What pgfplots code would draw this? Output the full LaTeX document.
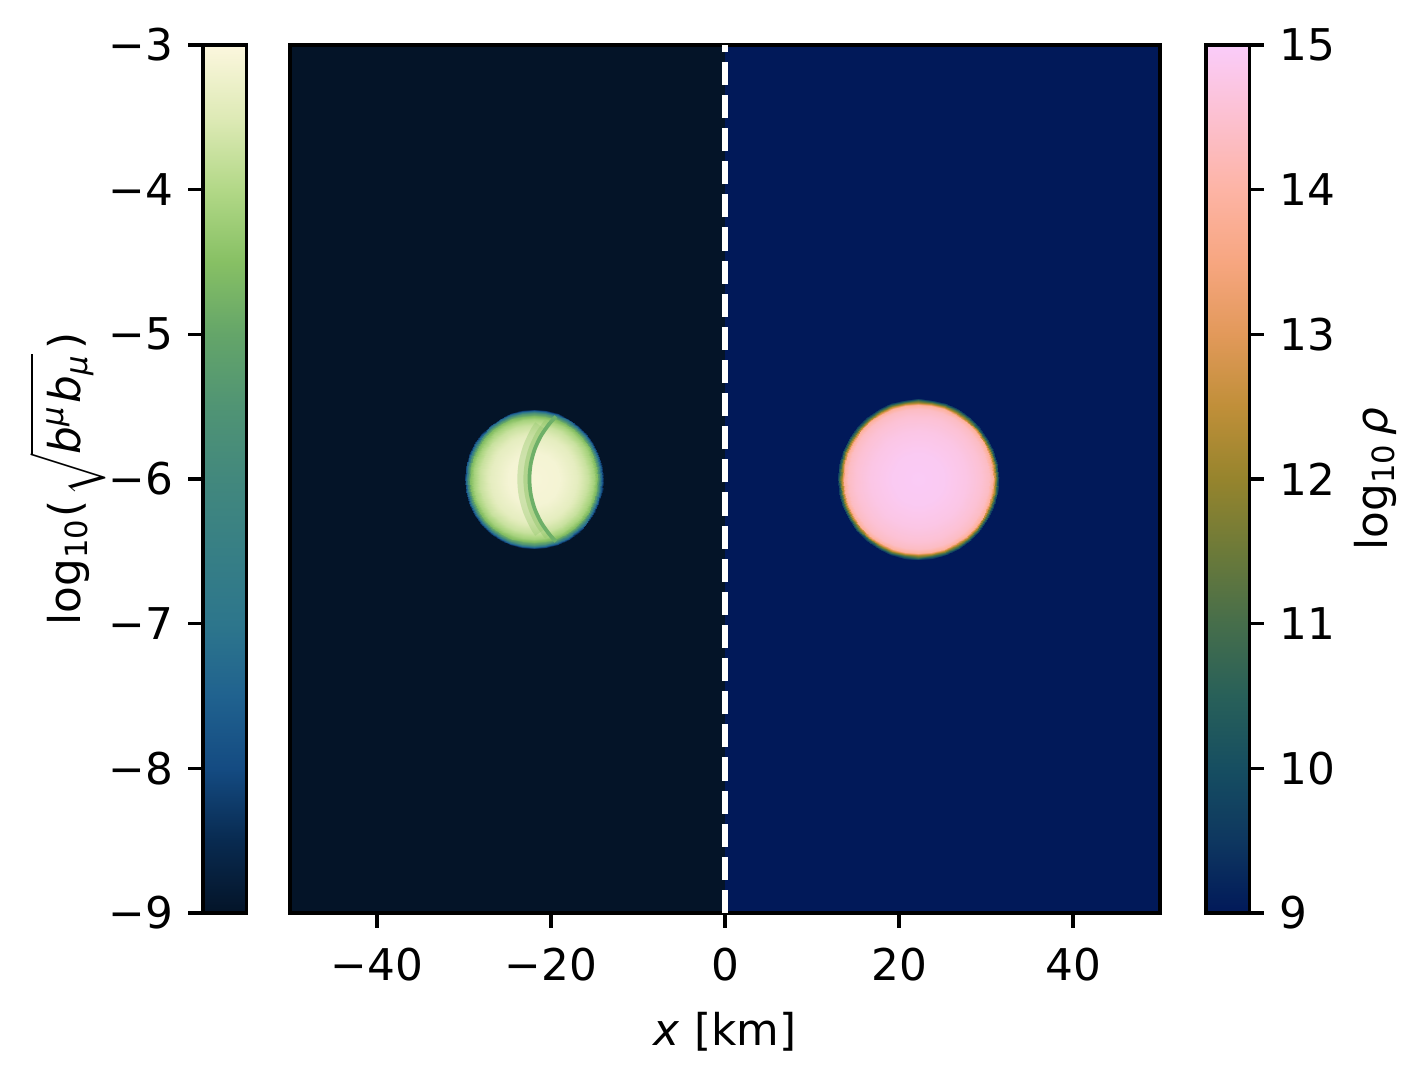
\documentclass[border=0pt]{standalone}
\usepackage{fontspec}
\setmainfont{DejaVu Sans}
\usepackage{pgfplots}
\pgfplotsset{compat=1.18}

\definecolor{bgleft}{RGB}{4,20,40}
\definecolor{bgright}{RGB}{1,25,89}
\definecolor{arcgreen}{RGB}{110,176,104}
\definecolor{bandgreen}{RGB}{150,200,112}

\pgfplotsset{
  colormap={navia}{rgb255=(4,20,40) rgb255=(8,42,80) rgb255=(20,75,130) rgb255=(32,98,143)
    rgb255=(45,118,140) rgb255=(55,127,133) rgb255=(66,136,125) rgb255=(80,148,116)
    rgb255=(100,165,105) rgb255=(135,192,100) rgb255=(178,216,135) rgb255=(222,234,182)
    rgb255=(252,247,222)},
  colormap={batlow}{rgb255=(1,25,89) rgb255=(14,55,96) rgb255=(22,78,97) rgb255=(40,96,89)
    rgb255=(70,110,75) rgb255=(108,122,57) rgb255=(150,132,45) rgb255=(192,143,57)
    rgb255=(226,153,90) rgb255=(247,166,128) rgb255=(253,180,165) rgb255=(252,192,208)
    rgb255=(250,204,250)},
  geom/.style={scale only axis, anchor=south west, at={(69.6pt,38.88pt)},
    width=208.8pt, height=208.32pt, ymin=-50, ymax=50},
  cbar/.style={scale only axis, anchor=south west, width=10.4pt, height=208.32pt,
    xmin=0, xmax=1, xtick=\empty, tick align=outside, major tick length=3.5pt,
    tick style={line width=0.8pt, black}, axis line style={line width=0.8pt}, axis on top},
}

\begin{document}
\fontsize{10.5}{12.6}\selectfont
\begin{tikzpicture}
\useasboundingbox (0,0) rectangle (341.76pt,258pt);

% background halves
\begin{axis}[geom, xmin=-50, xmax=50, hide axis]
\addplot[fill=bgleft, draw=none] coordinates {(-50,-50) (0,-50) (0,50) (-50,50)};
\addplot[fill=bgright, draw=none] coordinates {(0,-50) (50,-50) (50,50) (0,50)};
\end{axis}

% left star, magnetic field; rings given as (angle, radius)[value] around the star centre
\begin{axis}[geom, xmin=-28, xmax=72, hide axis, colormap name=navia,
  point meta min=-9, point meta max=-3]
\addplot[surf, shader=interp, data cs=polar, point meta=explicit, mesh/rows=9, mesh/cols=37] coordinates {
(0,0)[-3.08] (10,0)[-3.08] (20,0)[-3.08] (30,0)[-3.08] (40,0)[-3.08] (50,0)[-3.08] (60,0)[-3.08] (70,0)[-3.08] (80,0)[-3.08] (90,0)[-3.08] (100,0)[-3.08] (110,0)[-3.08] (120,0)[-3.08] (130,0)[-3.08] (140,0)[-3.08] (150,0)[-3.08] (160,0)[-3.08] (170,0)[-3.08] (180,0)[-3.08] (190,0)[-3.08] (200,0)[-3.08] (210,0)[-3.08] (220,0)[-3.08] (230,0)[-3.08] (240,0)[-3.08] (250,0)[-3.08] (260,0)[-3.08] (270,0)[-3.08] (280,0)[-3.08] (290,0)[-3.08] (300,0)[-3.08] (310,0)[-3.08] (320,0)[-3.08] (330,0)[-3.08] (340,0)[-3.08] (350,0)[-3.08] (360,0)[-3.08]
(0,3)[-3.13] (10,3)[-3.13] (20,3)[-3.13] (30,3)[-3.13] (40,3)[-3.13] (50,3)[-3.13] (60,3)[-3.13] (70,3)[-3.13] (80,3)[-3.13] (90,3)[-3.13] (100,3)[-3.13] (110,3)[-3.13] (120,3)[-3.13] (130,3)[-3.13] (140,3)[-3.13] (150,3)[-3.13] (160,3)[-3.13] (170,3)[-3.13] (180,3)[-3.13] (190,3)[-3.13] (200,3)[-3.13] (210,3)[-3.13] (220,3)[-3.13] (230,3)[-3.13] (240,3)[-3.13] (250,3)[-3.13] (260,3)[-3.13] (270,3)[-3.13] (280,3)[-3.13] (290,3)[-3.13] (300,3)[-3.13] (310,3)[-3.13] (320,3)[-3.13] (330,3)[-3.13] (340,3)[-3.13] (350,3)[-3.13] (360,3)[-3.13]
(0,5)[-3.38] (10,5)[-3.38] (20,5)[-3.38] (30,5)[-3.38] (40,5)[-3.38] (50,5)[-3.38] (60,5)[-3.38] (70,5)[-3.38] (80,5)[-3.38] (90,5)[-3.38] (100,5)[-3.38] (110,5)[-3.38] (120,5)[-3.38] (130,5)[-3.38] (140,5)[-3.38] (150,5)[-3.38] (160,5)[-3.38] (170,5)[-3.38] (180,5)[-3.38] (190,5)[-3.38] (200,5)[-3.38] (210,5)[-3.38] (220,5)[-3.38] (230,5)[-3.38] (240,5)[-3.38] (250,5)[-3.38] (260,5)[-3.38] (270,5)[-3.38] (280,5)[-3.38] (290,5)[-3.38] (300,5)[-3.38] (310,5)[-3.38] (320,5)[-3.38] (330,5)[-3.38] (340,5)[-3.38] (350,5)[-3.38] (360,5)[-3.38]
(0,6.2)[-3.75] (10,6.2)[-3.75] (20,6.2)[-3.75] (30,6.2)[-3.75] (40,6.2)[-3.75] (50,6.2)[-3.75] (60,6.2)[-3.75] (70,6.2)[-3.75] (80,6.2)[-3.75] (90,6.2)[-3.75] (100,6.2)[-3.75] (110,6.2)[-3.75] (120,6.2)[-3.75] (130,6.2)[-3.75] (140,6.2)[-3.75] (150,6.2)[-3.75] (160,6.2)[-3.75] (170,6.2)[-3.75] (180,6.2)[-3.75] (190,6.2)[-3.75] (200,6.2)[-3.75] (210,6.2)[-3.75] (220,6.2)[-3.75] (230,6.2)[-3.75] (240,6.2)[-3.75] (250,6.2)[-3.75] (260,6.2)[-3.75] (270,6.2)[-3.75] (280,6.2)[-3.75] (290,6.2)[-3.75] (300,6.2)[-3.75] (310,6.2)[-3.75] (320,6.2)[-3.75] (330,6.2)[-3.75] (340,6.2)[-3.75] (350,6.2)[-3.75] (360,6.2)[-3.75]
(0,6.9)[-4.15] (10,6.9)[-4.15] (20,6.9)[-4.15] (30,6.9)[-4.15] (40,6.9)[-4.15] (50,6.9)[-4.15] (60,6.9)[-4.15] (70,6.9)[-4.15] (80,6.9)[-4.15] (90,6.9)[-4.15] (100,6.9)[-4.15] (110,6.9)[-4.15] (120,6.9)[-4.15] (130,6.9)[-4.15] (140,6.9)[-4.15] (150,6.9)[-4.15] (160,6.9)[-4.15] (170,6.9)[-4.15] (180,6.9)[-4.15] (190,6.9)[-4.15] (200,6.9)[-4.15] (210,6.9)[-4.15] (220,6.9)[-4.15] (230,6.9)[-4.15] (240,6.9)[-4.15] (250,6.9)[-4.15] (260,6.9)[-4.15] (270,6.9)[-4.15] (280,6.9)[-4.15] (290,6.9)[-4.15] (300,6.9)[-4.15] (310,6.9)[-4.15] (320,6.9)[-4.15] (330,6.9)[-4.15] (340,6.9)[-4.15] (350,6.9)[-4.15] (360,6.9)[-4.15]
(0,7.3)[-4.6] (10,7.3)[-4.6] (20,7.3)[-4.6] (30,7.3)[-4.6] (40,7.3)[-4.6] (50,7.3)[-4.6] (60,7.3)[-4.6] (70,7.3)[-4.6] (80,7.3)[-4.6] (90,7.3)[-4.6] (100,7.3)[-4.6] (110,7.3)[-4.6] (120,7.3)[-4.6] (130,7.3)[-4.6] (140,7.3)[-4.6] (150,7.3)[-4.6] (160,7.3)[-4.6] (170,7.3)[-4.6] (180,7.3)[-4.6] (190,7.3)[-4.6] (200,7.3)[-4.6] (210,7.3)[-4.6] (220,7.3)[-4.6] (230,7.3)[-4.6] (240,7.3)[-4.6] (250,7.3)[-4.6] (260,7.3)[-4.6] (270,7.3)[-4.6] (280,7.3)[-4.6] (290,7.3)[-4.6] (300,7.3)[-4.6] (310,7.3)[-4.6] (320,7.3)[-4.6] (330,7.3)[-4.6] (340,7.3)[-4.6] (350,7.3)[-4.6] (360,7.3)[-4.6]
(0,7.55)[-5.5] (10,7.55)[-5.5] (20,7.55)[-5.5] (30,7.55)[-5.5] (40,7.55)[-5.5] (50,7.55)[-5.5] (60,7.55)[-5.5] (70,7.55)[-5.5] (80,7.55)[-5.5] (90,7.55)[-5.5] (100,7.55)[-5.5] (110,7.55)[-5.5] (120,7.55)[-5.5] (130,7.55)[-5.5] (140,7.55)[-5.5] (150,7.55)[-5.5] (160,7.55)[-5.5] (170,7.55)[-5.5] (180,7.55)[-5.5] (190,7.55)[-5.5] (200,7.55)[-5.5] (210,7.55)[-5.5] (220,7.55)[-5.5] (230,7.55)[-5.5] (240,7.55)[-5.5] (250,7.55)[-5.5] (260,7.55)[-5.5] (270,7.55)[-5.5] (280,7.55)[-5.5] (290,7.55)[-5.5] (300,7.55)[-5.5] (310,7.55)[-5.5] (320,7.55)[-5.5] (330,7.55)[-5.5] (340,7.55)[-5.5] (350,7.55)[-5.5] (360,7.55)[-5.5]
(0,7.8)[-7.2] (10,7.8)[-7.2] (20,7.8)[-7.2] (30,7.8)[-7.2] (40,7.8)[-7.2] (50,7.8)[-7.2] (60,7.8)[-7.2] (70,7.8)[-7.2] (80,7.8)[-7.2] (90,7.8)[-7.2] (100,7.8)[-7.2] (110,7.8)[-7.2] (120,7.8)[-7.2] (130,7.8)[-7.2] (140,7.8)[-7.2] (150,7.8)[-7.2] (160,7.8)[-7.2] (170,7.8)[-7.2] (180,7.8)[-7.2] (190,7.8)[-7.2] (200,7.8)[-7.2] (210,7.8)[-7.2] (220,7.8)[-7.2] (230,7.8)[-7.2] (240,7.8)[-7.2] (250,7.8)[-7.2] (260,7.8)[-7.2] (270,7.8)[-7.2] (280,7.8)[-7.2] (290,7.8)[-7.2] (300,7.8)[-7.2] (310,7.8)[-7.2] (320,7.8)[-7.2] (330,7.8)[-7.2] (340,7.8)[-7.2] (350,7.8)[-7.2] (360,7.8)[-7.2]
(0,8.05)[-9] (10,8.05)[-9] (20,8.05)[-9] (30,8.05)[-9] (40,8.05)[-9] (50,8.05)[-9] (60,8.05)[-9] (70,8.05)[-9] (80,8.05)[-9] (90,8.05)[-9] (100,8.05)[-9] (110,8.05)[-9] (120,8.05)[-9] (130,8.05)[-9] (140,8.05)[-9] (150,8.05)[-9] (160,8.05)[-9] (170,8.05)[-9] (180,8.05)[-9] (190,8.05)[-9] (200,8.05)[-9] (210,8.05)[-9] (220,8.05)[-9] (230,8.05)[-9] (240,8.05)[-9] (250,8.05)[-9] (260,8.05)[-9] (270,8.05)[-9] (280,8.05)[-9] (290,8.05)[-9] (300,8.05)[-9] (310,8.05)[-9] (320,8.05)[-9] (330,8.05)[-9] (340,8.05)[-9] (350,8.05)[-9] (360,8.05)[-9]
};
% inner boundary between the two lobes
\addplot[bandgreen, opacity=0.4, line width=2.9pt, smooth] coordinates {(0.75,6.14) (0.25,5.35) (-0.53,3.66) (-1.02,1.86) (-1.18,0) (-1.02,-1.86) (-0.53,-3.66) (0.25,-5.35) (0.75,-6.14)};
\addplot[bandgreen, opacity=0.5, line width=1.46pt, smooth] coordinates {(1.59,6.65) (0.56,5.18) (-0.21,3.54) (-0.67,1.80) (-0.83,0) (-0.67,-1.80) (-0.21,-3.54) (0.56,-5.18) (1.59,-6.65)};
\addplot[arcgreen, line width=0.9pt, smooth] coordinates {(2.57,7.19) (1.86,6.43) (0.86,5.00) (0.12,3.42) (-0.33,1.74) (-0.48,0) (-0.33,-1.74) (0.12,-3.42) (0.86,-5.00) (1.86,-6.43) (2.57,-7.19)};
\end{axis}

% right star, density
\begin{axis}[geom, xmin=-72.2, xmax=27.8, hide axis, colormap name=batlow,
  point meta min=9, point meta max=15]
\addplot[surf, shader=interp, data cs=polar, point meta=explicit, mesh/rows=9, mesh/cols=37] coordinates {
(0,0)[14.95] (10,0)[14.95] (20,0)[14.95] (30,0)[14.95] (40,0)[14.95] (50,0)[14.95] (60,0)[14.95] (70,0)[14.95] (80,0)[14.95] (90,0)[14.95] (100,0)[14.95] (110,0)[14.95] (120,0)[14.95] (130,0)[14.95] (140,0)[14.95] (150,0)[14.95] (160,0)[14.95] (170,0)[14.95] (180,0)[14.95] (190,0)[14.95] (200,0)[14.95] (210,0)[14.95] (220,0)[14.95] (230,0)[14.95] (240,0)[14.95] (250,0)[14.95] (260,0)[14.95] (270,0)[14.95] (280,0)[14.95] (290,0)[14.95] (300,0)[14.95] (310,0)[14.95] (320,0)[14.95] (330,0)[14.95] (340,0)[14.95] (350,0)[14.95] (360,0)[14.95]
(0,3)[14.9] (10,3)[14.9] (20,3)[14.9] (30,3)[14.9] (40,3)[14.9] (50,3)[14.9] (60,3)[14.9] (70,3)[14.9] (80,3)[14.9] (90,3)[14.9] (100,3)[14.9] (110,3)[14.9] (120,3)[14.9] (130,3)[14.9] (140,3)[14.9] (150,3)[14.9] (160,3)[14.9] (170,3)[14.9] (180,3)[14.9] (190,3)[14.9] (200,3)[14.9] (210,3)[14.9] (220,3)[14.9] (230,3)[14.9] (240,3)[14.9] (250,3)[14.9] (260,3)[14.9] (270,3)[14.9] (280,3)[14.9] (290,3)[14.9] (300,3)[14.9] (310,3)[14.9] (320,3)[14.9] (330,3)[14.9] (340,3)[14.9] (350,3)[14.9] (360,3)[14.9]
(0,5.5)[14.75] (10,5.5)[14.75] (20,5.5)[14.75] (30,5.5)[14.75] (40,5.5)[14.75] (50,5.5)[14.75] (60,5.5)[14.75] (70,5.5)[14.75] (80,5.5)[14.75] (90,5.5)[14.75] (100,5.5)[14.75] (110,5.5)[14.75] (120,5.5)[14.75] (130,5.5)[14.75] (140,5.5)[14.75] (150,5.5)[14.75] (160,5.5)[14.75] (170,5.5)[14.75] (180,5.5)[14.75] (190,5.5)[14.75] (200,5.5)[14.75] (210,5.5)[14.75] (220,5.5)[14.75] (230,5.5)[14.75] (240,5.5)[14.75] (250,5.5)[14.75] (260,5.5)[14.75] (270,5.5)[14.75] (280,5.5)[14.75] (290,5.5)[14.75] (300,5.5)[14.75] (310,5.5)[14.75] (320,5.5)[14.75] (330,5.5)[14.75] (340,5.5)[14.75] (350,5.5)[14.75] (360,5.5)[14.75]
(0,7.2)[14.55] (10,7.2)[14.55] (20,7.2)[14.55] (30,7.2)[14.55] (40,7.2)[14.55] (50,7.2)[14.55] (60,7.2)[14.55] (70,7.2)[14.55] (80,7.2)[14.55] (90,7.2)[14.55] (100,7.2)[14.55] (110,7.2)[14.55] (120,7.2)[14.55] (130,7.2)[14.55] (140,7.2)[14.55] (150,7.2)[14.55] (160,7.2)[14.55] (170,7.2)[14.55] (180,7.2)[14.55] (190,7.2)[14.55] (200,7.2)[14.55] (210,7.2)[14.55] (220,7.2)[14.55] (230,7.2)[14.55] (240,7.2)[14.55] (250,7.2)[14.55] (260,7.2)[14.55] (270,7.2)[14.55] (280,7.2)[14.55] (290,7.2)[14.55] (300,7.2)[14.55] (310,7.2)[14.55] (320,7.2)[14.55] (330,7.2)[14.55] (340,7.2)[14.55] (350,7.2)[14.55] (360,7.2)[14.55]
(0,8.1)[14.35] (10,8.1)[14.35] (20,8.1)[14.35] (30,8.1)[14.35] (40,8.1)[14.35] (50,8.1)[14.35] (60,8.1)[14.35] (70,8.1)[14.35] (80,8.1)[14.35] (90,8.1)[14.35] (100,8.1)[14.35] (110,8.1)[14.35] (120,8.1)[14.35] (130,8.1)[14.35] (140,8.1)[14.35] (150,8.1)[14.35] (160,8.1)[14.35] (170,8.1)[14.35] (180,8.1)[14.35] (190,8.1)[14.35] (200,8.1)[14.35] (210,8.1)[14.35] (220,8.1)[14.35] (230,8.1)[14.35] (240,8.1)[14.35] (250,8.1)[14.35] (260,8.1)[14.35] (270,8.1)[14.35] (280,8.1)[14.35] (290,8.1)[14.35] (300,8.1)[14.35] (310,8.1)[14.35] (320,8.1)[14.35] (330,8.1)[14.35] (340,8.1)[14.35] (350,8.1)[14.35] (360,8.1)[14.35]
(0,8.55)[13.9] (10,8.55)[13.9] (20,8.55)[13.9] (30,8.55)[13.9] (40,8.55)[13.9] (50,8.55)[13.9] (60,8.55)[13.9] (70,8.55)[13.9] (80,8.55)[13.9] (90,8.55)[13.9] (100,8.55)[13.9] (110,8.55)[13.9] (120,8.55)[13.9] (130,8.55)[13.9] (140,8.55)[13.9] (150,8.55)[13.9] (160,8.55)[13.9] (170,8.55)[13.9] (180,8.55)[13.9] (190,8.55)[13.9] (200,8.55)[13.9] (210,8.55)[13.9] (220,8.55)[13.9] (230,8.55)[13.9] (240,8.55)[13.9] (250,8.55)[13.9] (260,8.55)[13.9] (270,8.55)[13.9] (280,8.55)[13.9] (290,8.55)[13.9] (300,8.55)[13.9] (310,8.55)[13.9] (320,8.55)[13.9] (330,8.55)[13.9] (340,8.55)[13.9] (350,8.55)[13.9] (360,8.55)[13.9]
(0,8.8)[12.4] (10,8.8)[12.4] (20,8.8)[12.4] (30,8.8)[12.4] (40,8.8)[12.4] (50,8.8)[12.4] (60,8.8)[12.4] (70,8.8)[12.4] (80,8.8)[12.4] (90,8.8)[12.4] (100,8.8)[12.4] (110,8.8)[12.4] (120,8.8)[12.4] (130,8.8)[12.4] (140,8.8)[12.4] (150,8.8)[12.4] (160,8.8)[12.4] (170,8.8)[12.4] (180,8.8)[12.4] (190,8.8)[12.4] (200,8.8)[12.4] (210,8.8)[12.4] (220,8.8)[12.4] (230,8.8)[12.4] (240,8.8)[12.4] (250,8.8)[12.4] (260,8.8)[12.4] (270,8.8)[12.4] (280,8.8)[12.4] (290,8.8)[12.4] (300,8.8)[12.4] (310,8.8)[12.4] (320,8.8)[12.4] (330,8.8)[12.4] (340,8.8)[12.4] (350,8.8)[12.4] (360,8.8)[12.4]
(0,9.05)[10.8] (10,9.05)[10.8] (20,9.05)[10.8] (30,9.05)[10.8] (40,9.05)[10.8] (50,9.05)[10.8] (60,9.05)[10.8] (70,9.05)[10.8] (80,9.05)[10.8] (90,9.05)[10.8] (100,9.05)[10.8] (110,9.05)[10.8] (120,9.05)[10.8] (130,9.05)[10.8] (140,9.05)[10.8] (150,9.05)[10.8] (160,9.05)[10.8] (170,9.05)[10.8] (180,9.05)[10.8] (190,9.05)[10.8] (200,9.05)[10.8] (210,9.05)[10.8] (220,9.05)[10.8] (230,9.05)[10.8] (240,9.05)[10.8] (250,9.05)[10.8] (260,9.05)[10.8] (270,9.05)[10.8] (280,9.05)[10.8] (290,9.05)[10.8] (300,9.05)[10.8] (310,9.05)[10.8] (320,9.05)[10.8] (330,9.05)[10.8] (340,9.05)[10.8] (350,9.05)[10.8] (360,9.05)[10.8]
(0,9.3)[9] (10,9.3)[9] (20,9.3)[9] (30,9.3)[9] (40,9.3)[9] (50,9.3)[9] (60,9.3)[9] (70,9.3)[9] (80,9.3)[9] (90,9.3)[9] (100,9.3)[9] (110,9.3)[9] (120,9.3)[9] (130,9.3)[9] (140,9.3)[9] (150,9.3)[9] (160,9.3)[9] (170,9.3)[9] (180,9.3)[9] (190,9.3)[9] (200,9.3)[9] (210,9.3)[9] (220,9.3)[9] (230,9.3)[9] (240,9.3)[9] (250,9.3)[9] (260,9.3)[9] (270,9.3)[9] (280,9.3)[9] (290,9.3)[9] (300,9.3)[9] (310,9.3)[9] (320,9.3)[9] (330,9.3)[9] (340,9.3)[9] (350,9.3)[9] (360,9.3)[9]
};
\end{axis}

% frame, ticks and the dashed divider
\begin{axis}[geom, xmin=-50, xmax=50,
  xtick={-40,-20,0,20,40}, xticklabels={−40,−20,0,20,40}, ytick=\empty,
  xtick pos=bottom, tick align=outside, major tick length=3.5pt,
  tick style={line width=0.8pt, black}, axis line style={line width=0.8pt},
  xticklabel style={yshift=-1.1pt},
  xlabel={\textit{x} [km]},
  xlabel style={at={(axis description cs:0.5,-0.1532)}, anchor=base, inner sep=0pt}]
\addplot[white, line width=1.5pt, dash pattern=on 5.55pt off 2.4pt] coordinates {(0,-50) (0,50)};
\end{axis}

% left colour bar
\begin{axis}[cbar, at={(48.72pt,38.88pt)}, ymin=-9, ymax=-3,
  ytick={-9,-8,-7,-6,-5,-4,-3}, yticklabels={−9,−8,−7,−6,−5,−4,−3},
  ytick pos=left, colormap name=navia, point meta min=-9, point meta max=-3,
  ylabel={log\textsubscript{10}(\kern1pt$\sqrt{\mbox{\itshape b\textsuperscript{μ}\kern0.5pt b\textsubscript{μ}}}$\kern1pt)},
  ylabel style={at={(axis description cs:-2.83,0.5)}, anchor=base, inner sep=0pt}]
\addplot[surf, shader=interp, point meta=explicit, mesh/rows=2, mesh/cols=2] coordinates {(0,-9)[-9] (1,-9)[-9] (0,-3)[-3] (1,-3)[-3]};
\end{axis}

% right colour bar
\begin{axis}[cbar, at={(289.44pt,38.88pt)}, ymin=9, ymax=15,
  ytick={9,10,11,12,13,14,15}, yticklabels={9,10,11,12,13,14,15},
  ytick pos=right, yticklabel pos=right, colormap name=batlow, point meta min=9, point meta max=15,
  ylabel={log\textsubscript{10}\,\textit{ρ}},
  ylabel style={at={(axis description cs:4.19,0.5)}, anchor=base, inner sep=0pt}]
\addplot[surf, shader=interp, point meta=explicit, mesh/rows=2, mesh/cols=2] coordinates {(0,9)[9] (1,9)[9] (0,15)[15] (1,15)[15]};
\end{axis}
\end{tikzpicture}
\end{document}
